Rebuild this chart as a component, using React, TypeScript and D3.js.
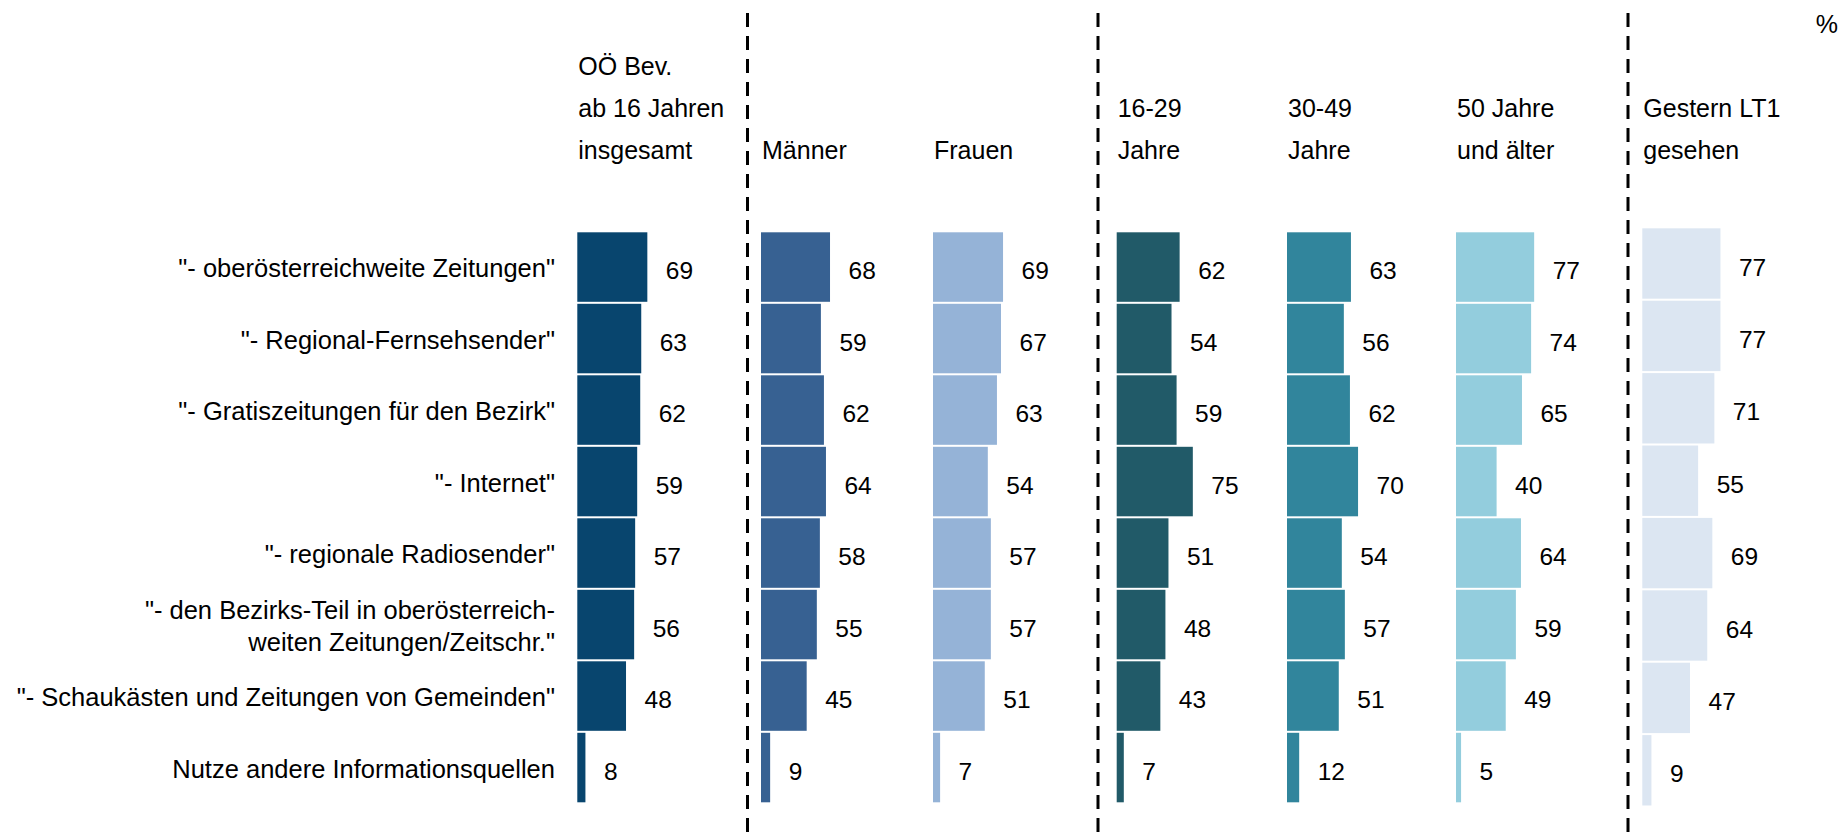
import React from 'react';
import * as d3 from 'd3';

// rows (information sources)
const rowLabels = [
  ['"- oberösterreichweite Zeitungen"'],
  ['"- Regional-Fernsehsender"'],
  ['"- Gratiszeitungen für den Bezirk"'],
  ['"- Internet"'],
  ['"- regionale Radiosender"'],
  ['"- den Bezirks-Teil in oberösterreich-', 'weiten Zeitungen/Zeitschr."'],
  ['"- Schaukästen und Zeitungen von Gemeinden"'],
  ['Nutze andere Informationsquellen'],
];

// column headers
const columnHeaders = [
  ['OÖ Bev.', 'ab 16 Jahren', 'insgesamt'],
  ['Männer'],
  ['Frauen'],
  ['16-29', 'Jahre'],
  ['30-49', 'Jahre'],
  ['50 Jahre', 'und älter'],
  ['Gestern LT1', 'gesehen'],
];

// values in %, one array per column
const total = [69, 63, 62, 59, 57, 56, 48, 8];
const men = [68, 59, 62, 64, 58, 55, 45, 9];
const women = [69, 67, 63, 54, 57, 57, 51, 7];
const age16to29 = [62, 54, 59, 75, 51, 48, 43, 7];
const age30to49 = [63, 56, 62, 70, 54, 57, 51, 12];
const age50plus = [77, 74, 65, 40, 64, 59, 49, 5];
const lt1Viewers = [77, 77, 71, 55, 69, 64, 47, 9];

const seriesValues = [total, men, women, age16to29, age30to49, age50plus, lt1Viewers];
const colors = ['#08456e', '#376192', '#95b3d7', '#215a68', '#31859c', '#93cddd', '#dce6f2'];

// layout
const width = 1841;
const height = 834;
const colX = [577.3, 761, 933, 1116.7, 1287, 1456, 1642.3];
const dividerX = [747.5, 1098, 1628];
const FONT = 'Arial, "Liberation Sans", sans-serif';

const App = () => {
  const rows = d3.range(rowLabels.length);
  const x = d3.scaleLinear().domain([0, 100]).range([0, 101.5]);

  const yMain = d3.scaleBand<number>().domain(rows).range([231.3, 803.3]).paddingInner(0.028).paddingOuter(0.014);
  const yLast = d3.scaleBand<number>().domain(rows).range([227.3, 806.5]).paddingInner(0.028).paddingOuter(0.014);

  const headerBase = 159;
  const headerStep = 42;

  return (
    <>
      <style>{'body{margin:0;overflow:hidden;background:#fff}'}</style>
      <svg width={width} height={height} style={{ display: 'block', fontFamily: FONT }}>
        {/* dashed group dividers */}
        {dividerX.map((dx, i) => (
          <line key={i} x1={dx} x2={dx} y1={13} y2={height} stroke="#000" strokeWidth={3} strokeDasharray="14 9" />
        ))}

        <text x={1838} y={33} fontSize={25} textAnchor="end">%</text>

        {/* row labels */}
        {rowLabels.map((lines, r) => {
          const cy = yMain(r)! + yMain.bandwidth() / 2;
          return (
            <text key={r} x={555} textAnchor="end" fontSize={25.5} fill="#000">
              {lines.map((ln, k) => (
                <tspan key={k} x={555} y={cy + 10 + (k - (lines.length - 1) / 2) * 32}>{ln}</tspan>
              ))}
            </text>
          );
        })}

        {seriesValues.map((vals, c) => {
          const y = c === seriesValues.length - 1 ? yLast : yMain;
          const hdr = columnHeaders[c];
          return (
            <g key={c}>
              <text fontSize={25} fill="#000">
                {hdr.map((ln, k) => (
                  <tspan key={k} x={colX[c] + 1} y={headerBase - (hdr.length - 1 - k) * headerStep}>{ln}</tspan>
                ))}
              </text>
              {vals.map((v, r) => (
                <g key={r}>
                  <rect x={colX[c]} y={y(r)} width={x(v)} height={y.bandwidth()} fill={colors[c]} />
                  <text
                    x={colX[c] + x(v) + 18.5}
                    y={y(r)! + y.bandwidth() / 2 + 12}
                    fontSize={24.5}
                    fill="#000"
                  >
                    {v}
                  </text>
                </g>
              ))}
            </g>
          );
        })}
      </svg>
    </>
  );
};

export default App;
